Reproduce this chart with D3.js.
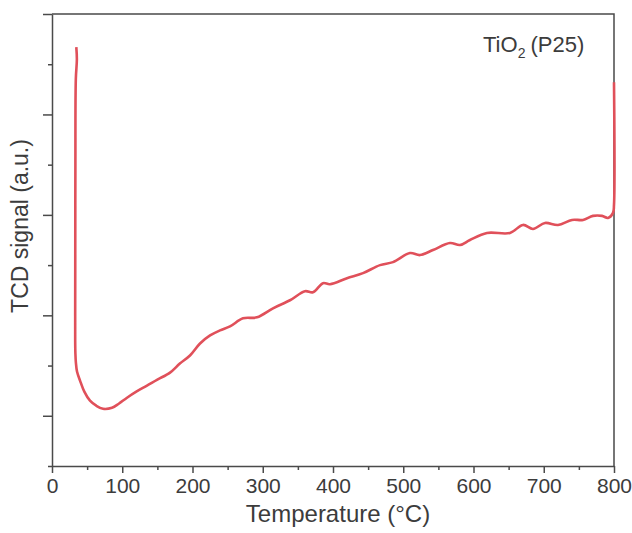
<!DOCTYPE html>
<html>
<head>
<meta charset="utf-8">
<script src="https://cdn.jsdelivr.net/npm/d3@7"></script>
<style>
  body { margin: 0; background: #fff; }
  text { font-family: "Liberation Sans", Arial, sans-serif; fill: #3c3c3c; }
</style>
</head>
<body>
<svg id="chart" width="632" height="533"></svg>
<script>
// TPD / TCD trace
const temperature = [34.6, 35.4, 33.9, 33.3, 33.1, 33.0, 33.0, 33.3, 34.0, 35.6, 39.9, 46.0, 54.1, 63.0, 72.6,
  85.4, 95.0, 106.8, 120.0, 135.2, 150.0, 168.0, 182.0, 196.4, 210.7, 225.0, 239.1, 253.4,
  271.9, 291.8, 314.6, 338.8, 360.1, 371.5, 385.8, 395.7, 419.9, 442.7, 466.9, 485.4, 509.6,
  523.8, 542.3, 566.5, 580.8, 595.0, 619.2, 651.9, 670.5, 684.7, 701.8, 720.3, 740.2, 755.9,
  770.1, 782.9, 791.5, 798.6, 800.0, 800.0];
const signal = [3.67, 3.55, 3.35, 2.5, 1.5, 1.0, 0.75, 0.62, 0.53, 0.44, 0.35, 0.24, 0.15, 0.10, 0.07,
  0.08, 0.12, 0.18, 0.24, 0.30, 0.36, 0.43, 0.52, 0.60, 0.72, 0.80, 0.85, 0.89,
  0.97, 0.98, 1.07, 1.15, 1.24, 1.23, 1.32, 1.31, 1.37, 1.42, 1.50, 1.53, 1.62,
  1.60, 1.65, 1.72, 1.70, 1.75, 1.82, 1.82, 1.90, 1.86, 1.92, 1.90, 1.95, 1.95,
  1.99, 1.99, 1.97, 2.02, 2.10, 3.32];

const xTicks = [0, 100, 200, 300, 400, 500, 600, 700, 800];
const xMinorTicks = [50, 150, 250, 350, 450, 550, 650, 750];
const yTicks = [0, 1, 2, 3, 4];
const yMinorTicks = [-0.5, 0.5, 1.5, 2.5, 3.5];

const margin = {top: 14, right: 18, bottom: 67, left: 52};
const width = 632 - margin.left - margin.right;
const height = 533 - margin.top - margin.bottom;

const svg = d3.select('#chart');
const g = svg.append('g').attr('transform', `translate(${margin.left},${margin.top})`);

const x = d3.scaleLinear().domain([0, 800]).range([0, width]);
const y = d3.scaleLinear().domain([-0.5, 4.0]).range([height, 0]);

const axisColor = '#4a4a4a';

// frame (top + right)
g.append('path')
  .attr('d', `M0,0H${width}V${height}`)
  .attr('fill', 'none')
  .attr('stroke', axisColor)
  .attr('stroke-width', 1.5);

// x axis
const xAxis = g.append('g')
  .attr('transform', `translate(0,${height})`)
  .call(d3.axisBottom(x).tickValues(xTicks).tickSize(7).tickPadding(5).tickSizeOuter(0));
g.append('g')
  .attr('transform', `translate(0,${height})`)
  .call(d3.axisBottom(x).tickValues(xMinorTicks).tickSize(4).tickFormat('').tickSizeOuter(0))
  .call(a => a.select('.domain').remove());

// y axis, no labels
const yAxis = g.append('g')
  .call(d3.axisLeft(y).tickValues(yTicks).tickSize(9).tickFormat('').tickSizeOuter(0));
g.append('g')
  .call(d3.axisLeft(y).tickValues(yMinorTicks).tickSize(4).tickFormat('').tickSizeOuter(0))
  .call(a => a.select('.domain').remove());

g.selectAll('.domain, .tick line')
  .attr('stroke', axisColor)
  .attr('stroke-width', 1.5);

xAxis.selectAll('text')
  .style('font-size', '21px')
  .style('font-family', '"Liberation Sans", Arial, sans-serif')
  .attr('fill', '#3c3c3c');

// curve
const line = d3.line()
  .x((d, i) => x(temperature[i]))
  .y((d, i) => y(signal[i]))
  .curve(d3.curveCatmullRom.alpha(0.5));

g.append('path')
  .datum(signal)
  .attr('d', line)
  .attr('fill', 'none')
  .attr('stroke', '#e0505a')
  .attr('stroke-width', 2.6)
  .attr('stroke-linejoin', 'round');

// axis titles
svg.append('text')
  .attr('x', margin.left + width / 2 + 5)
  .attr('y', 522)
  .attr('text-anchor', 'middle')
  .style('font-size', '24px')
  .text('Temperature (°C)');

svg.append('text')
  .attr('transform', `translate(28,${margin.top + 212}) rotate(-90)`)
  .attr('text-anchor', 'middle')
  .style('font-size', '23px')
  .text('TCD signal (a.u.)');

// sample label
const label = svg.append('text')
  .attr('x', 483)
  .attr('y', 52)
  .style('font-size', '22px');
label.append('tspan').text('TiO');
label.append('tspan').attr('dy', 6).style('font-size', '14px').text('2');
label.append('tspan').attr('dy', -6).attr('dx', 5).text('(P25)');
</script>
</body>
</html>
